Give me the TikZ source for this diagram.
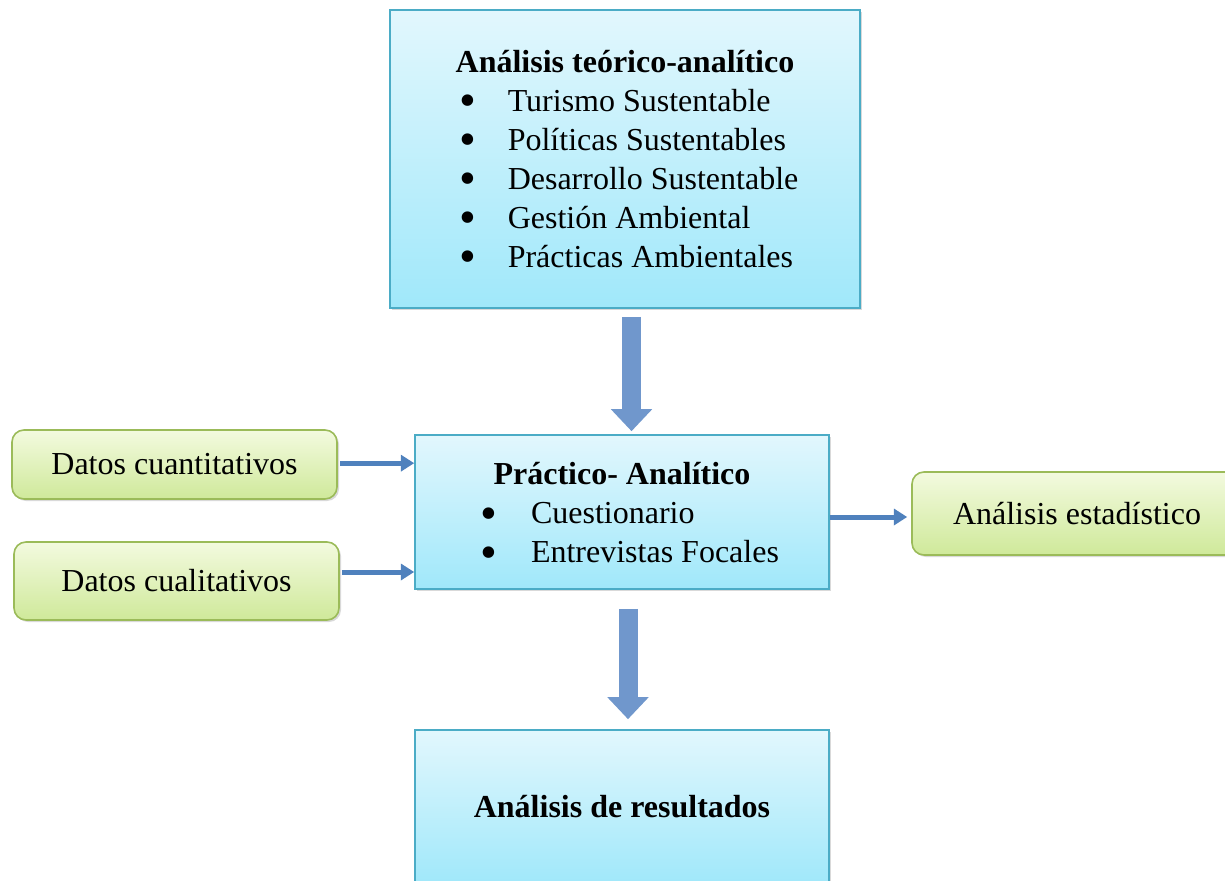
\documentclass[tikz,border=0pt]{standalone}
\usepackage{fontspec}
\setmainfont{Liberation Serif}
\usetikzlibrary{arrows.meta,shadows}
\definecolor{boxline}{HTML}{4BACC6}
\definecolor{boxtop}{HTML}{E2F7FD}
\definecolor{boxbottom}{HTML}{A0E8FA}
\definecolor{dataline}{HTML}{9BBB59}
\definecolor{datatop}{HTML}{F3FADF}
\definecolor{databottom}{HTML}{CFE99A}
\definecolor{flow}{HTML}{4F81BD}
\definecolor{fatflow}{HTML}{7097CC}
\newcommand{\bala}{\raisebox{-4pt}{\fontsize{36}{36}\selectfont •}}

\begin{document}
\begin{tikzpicture}[x=0.75pt,y=-0.75pt,
  every node/.style={font=\fontsize{24}{29.25}\selectfont},
  bluebox/.style={draw=boxline,line width=1.2pt,top color=boxtop,bottom color=boxbottom,inner sep=0pt,
    drop shadow={shadow xshift=1.5pt,shadow yshift=-1.5pt,opacity=0.3}},
  databox/.style={draw=dataline,line width=1.2pt,rounded corners=9pt,top color=datatop,bottom color=databottom,
    minimum width=243.75pt,drop shadow={shadow xshift=1.5pt,shadow yshift=-1.5pt,opacity=0.3}},
  thinflow/.style={draw=flow,line width=3.75pt,-{Triangle[length=10pt,width=12pt]}},
  fatflow/.style={draw=fatflow,line width=14.25pt,-{Triangle[length=16.5pt,width=30pt]}}]
\useasboundingbox (0,0) rectangle (1225,881);
\node[bluebox,minimum width=352.5pt,minimum height=223.5pt] (teorico) at (625,159) {\raisebox{-2.5pt}[\height][\depth]{\begin{tabular}{@{\hspace{6pt}}l@{\hspace{23.5pt}}l@{}}
\multicolumn{2}{c}{\makebox[0pt]{\textbf{Análisis teórico-analítico}}}\\
\bala&Turismo Sustentable\\
\bala&Políticas Sustentables\\
\bala&Desarrollo Sustentable\\
\bala&Gestión Ambiental\\
\bala&Prácticas Ambientales
\end{tabular}}};
\node[bluebox,minimum width=310.5pt,minimum height=115.5pt] (practico) at (622,512) {\raisebox{-3pt}[\height][\depth]{\begin{tabular}{@{\hspace{11.7pt}}l@{\hspace{25.2pt}}l@{}}
\multicolumn{2}{c}{\makebox[0pt]{\textbf{Práctico- Analítico}}}\\
\bala&Cuestionario\\
\bala&Entrevistas Focales
\end{tabular}}};
\node[bluebox,minimum width=310.5pt,minimum height=115.5pt] (resultados) at (622,807) {\textbf{Análisis de resultados}};
\node[databox,minimum height=51.75pt] (cuanti) at (174.5,464.5) {Datos cuantitativos};
\node[databox,minimum height=58.5pt] (cuali) at (176.5,581) {Datos cualitativos};
\node[databox,minimum width=247.5pt,minimum height=62.25pt] (estad) at (1077,513.5) {Análisis estadístico};
\draw[thinflow,shorten <=2pt] ([yshift=1pt]cuanti.east) -- ([yshift=1pt]cuanti.east -| practico.west);
\draw[thinflow,shorten <=2pt] ([yshift=6.75pt]cuali.east) -- ([yshift=6.75pt]cuali.east -| practico.west);
\draw[thinflow,shorten >=3pt] ([yshift=-3.75pt]practico.east) -- ([yshift=-3.75pt]practico.east -| estad.west);
\draw[fatflow,shorten <=6pt,shorten >=2.25pt] ([xshift=4.9pt]teorico.south) -- ([xshift=4.9pt]teorico.south |- practico.north);
\draw[fatflow,shorten <=14.25pt,shorten >=7.5pt] ([xshift=4.5pt]practico.south) -- ([xshift=4.5pt]practico.south |- resultados.north);
\end{tikzpicture}
\end{document}
